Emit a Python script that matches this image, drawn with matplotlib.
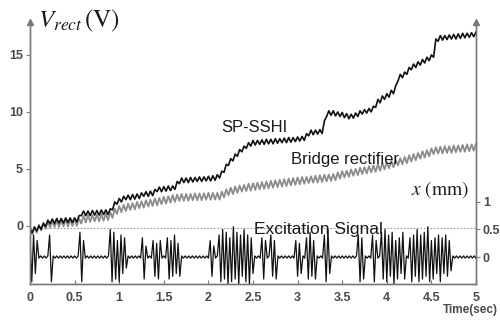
import matplotlib
matplotlib.use('Agg')
import matplotlib.pyplot as plt
import numpy as np

plt.rcParams['font.family'] = ['Liberation Sans', 'DejaVu Sans']
plt.rcParams['mathtext.fontset'] = 'stix'

# SP-SSHI rectified voltage (V), sampled every 0.025 s from 0 to 5 s
sp_sshi = [
    -0.3, -0.6, -0.1, -0.45, 0.0, -0.3, 0.2, -0.05, 0.5, 0.2,
    0.6, 0.2, 0.65, 0.25, 0.65, 0.25, 0.7, 0.3, 0.7, 0.3,
    0.7, 0.35, 0.9, 0.9, 1.3, 0.9, 1.3, 0.9, 1.35, 0.95,
    1.35, 0.95, 1.4, 1.0, 1.4, 1.0, 1.5, 1.4, 2.1, 1.9,
    2.4, 2.1, 2.6, 2.3, 2.7, 2.3, 2.75, 2.35, 2.8, 2.4,
    2.9, 2.6, 3.0, 2.6, 3.05, 2.65, 3.2, 3.0, 3.4, 3.0,
    3.45, 3.05, 3.5, 3.1, 3.5, 3.2, 3.9, 3.7, 4.2, 3.8,
    4.2, 3.8, 4.25, 3.85, 4.25, 3.9, 4.3, 3.9, 4.3, 3.95,
    4.35, 3.95, 4.4, 4.0, 4.5, 4.2, 4.8, 4.7, 5.4, 5.3,
    5.9, 5.7, 6.3, 6.1, 6.7, 6.5, 7.0, 6.8, 7.3, 7.0,
    7.5, 7.1, 7.5, 7.15, 7.55, 7.15, 7.6, 7.2, 7.6, 7.2,
    7.65, 7.25, 7.65, 7.3, 7.7, 7.3, 7.75, 7.35, 7.75, 7.4,
    7.8, 7.45, 7.85, 7.5, 8.1, 7.9, 8.4, 8.0, 8.4, 8.05,
    8.45, 8.1, 9.2, 9.6, 10.1, 9.7, 10.1, 9.65, 10.0, 9.6,
    9.95, 9.5, 9.85, 9.4, 9.8, 9.45, 9.9, 9.6, 10.1, 9.8,
    10.2, 9.9, 10.3, 10.0, 10.5, 10.4, 11.1, 10.8, 11.4, 11.1,
    11.6, 11.3, 11.9, 11.6, 12.3, 12.7, 13.3, 13.0, 13.5, 13.3,
    13.9, 13.7, 14.2, 13.9, 14.4, 14.1, 14.6, 14.3, 14.8, 14.5,
    15.0, 14.8, 16.4, 16.2, 16.7, 16.3, 16.7, 16.35, 16.75, 16.4,
    16.8, 16.4, 16.85, 16.45, 16.9, 16.5, 16.9, 16.55, 16.95, 16.6,
    17.0,
]

# Bridge rectifier voltage (V), sampled every 0.025 s from 0 to 5 s
bridge = [
    -0.2, -0.75, -0.1, -0.6, 0.1, -0.4, 0.3, -0.25, 0.4, -0.15,
    0.45, -0.1, 0.5, -0.1, 0.5, -0.05, 0.55, -0.05, 0.55, 0.0,
    0.6, 0.0, 0.65, 0.2, 0.9, 0.3, 0.95, 0.35, 0.95, 0.4,
    1.0, 0.4, 1.05, 0.45, 1.1, 0.5, 1.2, 0.7, 1.5, 1.05,
    1.75, 1.2, 1.85, 1.3, 1.95, 1.4, 2.0, 1.45, 2.1, 1.55,
    2.15, 1.6, 2.25, 1.7, 2.3, 1.75, 2.4, 1.8, 2.45, 1.9,
    2.55, 1.95, 2.6, 2.05, 2.7, 2.1, 2.75, 2.2, 2.8, 2.2,
    2.8, 2.2, 2.8, 2.25, 2.85, 2.25, 2.85, 2.25, 2.85, 2.3,
    2.9, 2.3, 2.9, 2.3, 2.9, 2.3, 3.0, 2.5, 3.2, 2.7,
    3.35, 2.8, 3.45, 2.9, 3.55, 3.0, 3.6, 3.05, 3.7, 3.1,
    3.75, 3.15, 3.8, 3.2, 3.85, 3.25, 3.9, 3.3, 3.95, 3.35,
    4.0, 3.4, 4.05, 3.45, 4.1, 3.5, 4.15, 3.55, 4.2, 3.6,
    4.25, 3.65, 4.3, 3.7, 4.3, 3.75, 4.35, 3.8, 4.4, 3.8,
    4.45, 3.85, 4.5, 3.9, 4.5, 3.95, 4.55, 4.0, 4.7, 4.15,
    4.8, 4.25, 4.85, 4.3, 4.95, 4.4, 5.0, 4.45, 5.1, 4.55,
    5.15, 4.6, 5.25, 4.7, 5.3, 4.75, 5.4, 4.85, 5.5, 4.95,
    5.6, 5.05, 5.7, 5.15, 5.8, 5.3, 5.95, 5.4, 6.05, 5.5,
    6.2, 5.65, 6.3, 5.75, 6.4, 5.9, 6.55, 6.0, 6.65, 6.1,
    6.8, 6.3, 6.9, 6.35, 6.95, 6.35, 7.0, 6.4, 7.0, 6.4,
    7.05, 6.45, 7.05, 6.5, 7.1, 6.5, 7.15, 6.55, 7.15, 6.6,
    7.2,
]

# Excitation displacement (mm), sampled every 0.02 s from 0 to 5 s
excitation = [
    0.35, -0.45, 0.4, -0.3, 0.3, -0.02, 0.02, -0.02, 0.02, -0.02,
    0.02, 0.4, -0.45, 0.02, -0.02, 0.02, -0.02, 0.02, -0.02, 0.02,
    -0.02, 0.02, -0.02, 0.02, -0.02, 0.02, -0.02, 0.02, 0.45, -0.45,
    0.3, -0.02, 0.02, -0.02, 0.02, -0.02, 0.02, -0.02, 0.02, -0.02,
    0.02, -0.02, 0.02, -0.02, 0.02, 0.5, -0.45, 0.45, -0.4, 0.3,
    -0.45, 0.4, -0.3, 0.35, -0.2, 0.02, -0.02, 0.02, -0.02, 0.02,
    -0.02, 0.02, -0.02, 0.35, -0.4, 0.2, -0.02, 0.02, -0.02, 0.3,
    -0.35, 0.25, -0.4, 0.3, -0.02, 0.02, -0.02, 0.35, -0.4, 0.3,
    -0.35, 0.4, -0.3, 0.25, -0.35, 0.02, -0.02, 0.02, -0.02, 0.02,
    -0.02, 0.02, -0.02, 0.02, -0.02, 0.02, -0.02, 0.02, -0.02, 0.02,
    -0.02, 0.3, -0.35, 0.2, -0.02, 0.02, 0.4, -0.45, 0.5, -0.4,
    0.45, -0.5, 0.35, -0.45, 0.55, -0.4, 0.45, -0.5, 0.4, -0.35,
    0.5, -0.45, 0.4, -0.5, 0.35, -0.3, 0.02, -0.02, 0.02, -0.02,
    0.35, -0.4, 0.3, -0.02, 0.02, 0.4, -0.35, 0.3, -0.4, 0.02,
    -0.02, 0.02, -0.02, 0.02, -0.02, 0.02, -0.02, 0.02, -0.02, 0.3,
    -0.35, 0.25, -0.3, 0.02, -0.02, 0.35, -0.4, 0.45, -0.35, 0.3,
    -0.4, 0.02, -0.02, 0.02, -0.02, 0.4, -0.45, 0.5, -0.3, 0.02,
    -0.02, 0.02, -0.02, 0.02, -0.02, 0.02, -0.02, 0.02, -0.02, 0.02,
    -0.02, 0.02, -0.02, 0.02, 0.4, -0.45, 0.35, -0.4, 0.02, -0.02,
    0.02, -0.02, 0.4, -0.45, 0.3, -0.02, 0.02, 0.45, -0.4, 0.5,
    -0.45, 0.4, -0.35, 0.45, -0.5, 0.3, -0.4, 0.35, -0.3, 0.45,
    -0.4, 0.02, -0.02, 0.35, -0.45, 0.4, -0.35, 0.5, -0.45, 0.4,
    -0.4, 0.45, -0.35, 0.55, -0.45, 0.3, -0.4, 0.35, -0.3, 0.4,
    -0.45, 0.35, -0.3, 0.4, -0.35, 0.3, -0.25, 0.02, -0.02, 0.02,
    -0.02, 0.02, -0.02, 0.02, -0.02, 0.02, -0.02, 0.02, -0.02, 0.02, -0.02,
]

x_ticks = [0, 0.5, 1, 1.5, 2, 2.5, 3, 3.5, 4, 4.5, 5]
x_ticklabels = ['0', '0.5', '1', '1.5', '2', '2.5', '3', '3.5', '4', '4.5', '5']
v_ticks = [0, 5, 10, 15]
mm_ticks = [0, 0.5, 1]
mm_ticklabels = ['0', '0.5', '1']

t_v = np.linspace(0, 5, len(sp_sshi))
t_b = np.linspace(0, 5, len(bridge))
t_e = np.linspace(0, 5, len(excitation))

axis_col = '#7a7a7a'
lab_col = '#4a4a4a'

fig = plt.figure(figsize=(5.0, 3.22), dpi=100)
ax = fig.add_axes([0.06, 0.118, 0.892, 0.814])
ax2 = ax.twinx()

ax.plot(t_b, bridge, color='#8c8c8c', lw=1.3, zorder=3)
ax.plot(t_v, sp_sshi, color='#111111', lw=1.2, zorder=4)
ax.axhline(-0.15, color='#999999', lw=0.8, ls=(0, (1.5, 1.5)), zorder=2)
ax2.plot(t_e, excitation, color='#111111', lw=0.9)

ax.set_xlim(0, 5)
ax.set_ylim(-5.1, 17.9)
ax2.set_ylim(-0.49, 4.27)

for a in (ax, ax2):
    a.spines['top'].set_visible(False)
    for s in ('left', 'right', 'bottom'):
        a.spines[s].set_color(axis_col)
        a.spines[s].set_linewidth(1.0)

ax.set_xticks(x_ticks)
ax.set_xticklabels(x_ticklabels)
ax.set_yticks(v_ticks)
ax.tick_params(axis='x', direction='in', length=3, width=0.8, color=axis_col,
               pad=6, labelsize=9, labelcolor=lab_col)
ax.tick_params(axis='y', direction='out', length=3, width=0.8, color=axis_col,
               pad=2, labelsize=9, labelcolor=lab_col)
ax2.set_yticks(mm_ticks)
ax2.set_yticklabels(mm_ticklabels)
ax2.tick_params(axis='y', direction='out', length=3, width=0.8, color=axis_col,
                pad=2, labelsize=9, labelcolor=lab_col)
for lbl in ax.get_xticklabels() + ax.get_yticklabels() + ax2.get_yticklabels():
    lbl.set_fontweight('bold')

# arrow heads on vertical axes
ax.plot([0], [1.0], marker='^', ms=4, color=axis_col, transform=ax.transAxes,
        clip_on=False, zorder=6)
ax.plot([1], [1.0], marker='^', ms=4, color=axis_col, transform=ax.transAxes,
        clip_on=False, zorder=6)

ax.text(2.52, 8.6, 'SP-SSHI', fontsize=12, ha='center', va='center', color='#1a1a1a')
ax.text(3.53, 5.8, 'Bridge rectifier', fontsize=12, ha='center', va='center',
        color='#1a1a1a', zorder=5)
ax.text(3.23, -0.3, 'Excitation Signal', fontsize=12.5, ha='center', va='center',
        color='#1a1a1a', zorder=5)

fig.text(0.076, 0.935, r'$V_{rect}\,(\mathrm{V})$', fontsize=18, ha='left',
         va='center', color='#1a1a1a')
fig.text(0.88, 0.41, r'$x\ (\mathrm{mm})$', fontsize=14, ha='center',
         va='center', color='#1a1a1a')
fig.text(0.94, 0.018, 'Time(sec)', fontsize=8.5, fontweight='bold', ha='center',
         va='bottom', color=lab_col)

fig.savefig('out.png', dpi=100)
